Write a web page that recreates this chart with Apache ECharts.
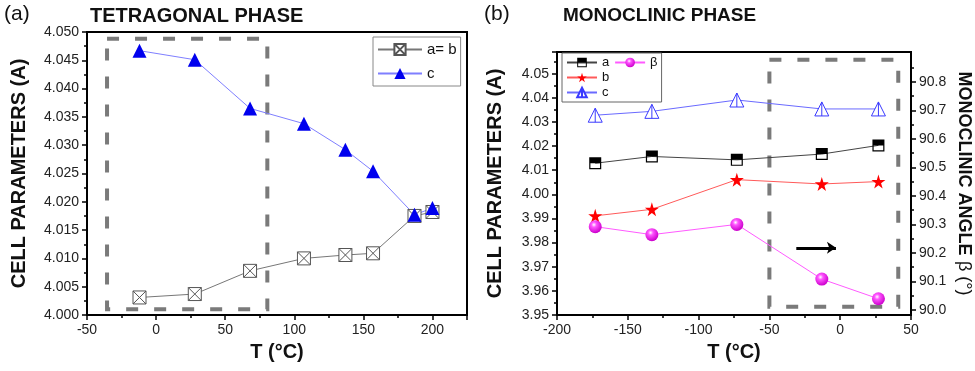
<!DOCTYPE html>
<html>
<head>
<meta charset="utf-8">
<script src="https://cdn.jsdelivr.net/npm/echarts@6/dist/echarts.min.js"></script>
<style>html,body{margin:0;background:#fff}#DataChart{width:975px;height:371px}</style>
</head>
<body>
<div id="DataChart"></div>
<script>
// 数据 (a) 四方相
var tempA = [-12, 28, 68, 107, 137, 157, 187, 200];
var abA = [4.0031, 4.0037, 4.0078, 4.0100, 4.0106, 4.0109, 4.0175, 4.0182];
var cA = [4.0467, 4.0451, 4.0365, 4.0338, 4.0292, 4.0254, 4.0177, 4.0189];

// 数据 (b) 单斜相
var tempB = [-173, -133, -73, -13, 27];
var aB = [4.0129, 4.0157, 4.0143, 4.0167, 4.0203];
var bB = [3.9911, 3.9938, 4.0061, 4.0043, 4.0053];
var cB = [4.0328, 4.0344, 4.0391, 4.0354, 4.0354];
var betaB = [90.292, 90.264, 90.300, 90.108, 90.039];

var betaTicks = [90.0, 90.1, 90.2, 90.3, 90.4, 90.5, 90.6, 90.7, 90.8];
var betaMinorTicks = [90.05, 90.15, 90.25, 90.35, 90.45, 90.55, 90.65, 90.75, 90.85];

function zip(xs, ys) {
    return xs.map(function (x, i) { return [x, ys[i]]; });
}

var font = 'Liberation Sans, Arial, sans-serif';
var black = '#000';

var squareX = 'path://M0,0 L20,0 L20,20 L0,20 Z M0,0 L20,20 M20,0 L0,20';
var halfSquare = 'path://M0,0 L20,0 L20,20 L0,20 Z M2,10 L2,18 L18,18 L18,10 Z';
var star = 'path://M50,0 L61,35 L98,35 L68,57 L79,91 L50,70 L21,91 L32,57 L2,35 L39,35 Z';
var openTri = 'path://M10,0 L20,18 L0,18 Z M10,0 L10,18';

function axisCommon(extra) {
    var base = {
        type: 'value',
        nameLocation: 'middle',
        nameTextStyle: { fontFamily: font, fontWeight: 'bold', fontSize: 20, color: '#111' },
        axisLine: { show: true, onZero: false, lineStyle: { color: black, width: 2 } },
        axisTick: { show: true, inside: false, length: 5, lineStyle: { color: black, width: 1.5 } },
        minorTick: { show: true, splitNumber: 2, length: 3, lineStyle: { color: black, width: 1.5 } },
        axisLabel: { fontFamily: font, fontSize: 14, color: '#222', margin: 8 },
        splitLine: { show: false },
        minorSplitLine: { show: false }
    };
    for (var k in extra) {
        if (typeof extra[k] === 'object' && base[k] && !Array.isArray(extra[k])) {
            base[k] = Object.assign({}, base[k], extra[k]);
        } else {
            base[k] = extra[k];
        }
    }
    return base;
}

var myChart = echarts.init(document.getElementById('DataChart'));

var option = {
    animation: false,
    backgroundColor: '#fff',
    title: [
        { text: '(a)', left: 4, top: 4, padding: 0, textStyle: { fontFamily: font, fontSize: 21, fontWeight: 'normal', color: '#111' } },
        { text: 'TETRAGONAL PHASE', left: 90, top: 6, padding: 0, textStyle: { fontFamily: font, fontSize: 20, fontWeight: 'bold', color: '#111' } },
        { text: '(b)', left: 484, top: 4, padding: 0, textStyle: { fontFamily: font, fontSize: 21, fontWeight: 'normal', color: '#111' } },
        { text: 'MONOCLINIC PHASE', left: 563, top: 6, padding: 0, textStyle: { fontFamily: font, fontSize: 19, fontWeight: 'bold', color: '#111' } }
    ],
    grid: [
        { left: 87, top: 32, right: 508, bottom: 56, show: true, borderColor: black, borderWidth: 2 },
        { left: 557, top: 52, right: 63, bottom: 56, show: true, borderColor: black, borderWidth: 2 }
    ],
    legend: [
        {
            data: ['a= b', 'c'],
            orient: 'vertical',
            left: 373, top: 37,
            itemWidth: 44, itemHeight: 14, itemGap: 9,
            padding: [5, 4, 5, 4],
            borderColor: '#888', borderWidth: 1,
            textStyle: { fontFamily: font, fontSize: 15, color: '#111' }
        },
        {
            data: ['a', 'b', 'c ', 'β'],
            orient: 'vertical',
            left: 562, top: 53,
            height: 48,
            itemWidth: 30, itemHeight: 12, itemGap: 2,
            padding: [3, 4, 3, 4],
            borderColor: '#666', borderWidth: 1,
            textStyle: { fontFamily: font, fontSize: 13, color: '#111' }
        }
    ],
    xAxis: [
        axisCommon({
            gridIndex: 0, min: -50, max: 225, interval: 50,
            name: 'T (°C)', nameGap: 27,
            axisLabel: { showMaxLabel: false }
        }),
        axisCommon({
            gridIndex: 1, min: -200, max: 50, interval: 50,
            name: 'T (°C)', nameGap: 27
        })
    ],
    yAxis: [
        axisCommon({
            gridIndex: 0, min: 4.000, max: 4.050, interval: 0.005,
            name: 'CELL PARAMETERS (A)', nameGap: 58,
            axisLabel: { formatter: function (v) { return v.toFixed(3); } }
        }),
        axisCommon({
            gridIndex: 1, min: 3.95, max: 4.059, interval: 0.01,
            name: 'CELL PARAMETERS (A)', nameGap: 52,
            axisLabel: { showMaxLabel: false, formatter: function (v) { return v.toFixed(2); } }
        }),
        axisCommon({
            gridIndex: 1, position: 'right', min: 89.982, max: 90.905,
            name: '{b|MONOCLINIC ANGLE} {n|β (°)}', nameGap: 43, nameRotate: -90,
            nameTextStyle: {
                rich: {
                    b: { fontFamily: font, fontWeight: 'bold', fontSize: 18, color: '#111' },
                    n: { fontFamily: font, fontWeight: 'normal', fontSize: 18, color: '#111' }
                }
            },
            minorTick: { show: false },
            axisTick: { customValues: betaTicks },
            axisLabel: { customValues: betaTicks, formatter: function (v) { return v.toFixed(1); } }
        }),
        axisCommon({
            gridIndex: 1, position: 'right', min: 89.982, max: 90.905,
            axisLine: { show: false },
            minorTick: { show: false },
            axisLabel: { show: false },
            axisTick: { customValues: betaMinorTicks, length: 3 }
        })
    ],
    series: [
        {
            name: 'a= b', type: 'line', xAxisIndex: 0, yAxisIndex: 0,
            data: zip(tempA, abA),
            symbol: squareX, symbolSize: 13,
            itemStyle: { color: '#fff', borderColor: '#555', borderWidth: 1 },
            lineStyle: { color: '#777', width: 1 },
            markArea: {
                silent: true,
                itemStyle: { color: 'rgba(0,0,0,0)', borderColor: '#7a7a7a', borderWidth: 4, borderType: [12, 16] },
                data: [[{ coord: [-35.5, 4.0488] }, { coord: [80.5, 4.001] }]]
            }
        },
        {
            name: 'c', type: 'line', xAxisIndex: 0, yAxisIndex: 0,
            data: zip(tempA, cA),
            symbol: 'triangle', symbolSize: 14,
            itemStyle: { color: '#0000ee' },
            lineStyle: { color: '#7f7fff', width: 1 }
        },
        {
            name: 'a', type: 'line', xAxisIndex: 1, yAxisIndex: 1,
            data: zip(tempB, aB),
            symbol: halfSquare, symbolSize: 12,
            itemStyle: { color: '#000' },
            lineStyle: { color: '#444', width: 1 },
            markArea: {
                silent: true,
                itemStyle: { color: 'rgba(0,0,0,0)', borderColor: '#7a7a7a', borderWidth: 4, borderType: [12, 16] },
                data: [[{ coord: [-50, 4.0558] }, { coord: [41, 3.9534] }]]
            }
        },
        {
            name: 'b', type: 'line', xAxisIndex: 1, yAxisIndex: 1,
            data: zip(tempB, bB),
            symbol: star, symbolSize: 14,
            itemStyle: { color: '#ff0000' },
            lineStyle: { color: '#ff5a5a', width: 1 }
        },
        {
            name: 'c ', type: 'line', xAxisIndex: 1, yAxisIndex: 1,
            data: zip(tempB, cB),
            symbol: openTri, symbolSize: 14,
            itemStyle: { color: '#fff', borderColor: '#3a3aff', borderWidth: 1 },
            lineStyle: { color: '#6a6aff', width: 1 }
        },
        {
            name: 'β', type: 'line', xAxisIndex: 1, yAxisIndex: 2,
            data: zip(tempB, betaB),
            symbol: 'circle', symbolSize: 13,
            itemStyle: {
                color: new echarts.graphic.RadialGradient(0.4, 0.35, 0.65, [
                    { offset: 0, color: '#ffffff' },
                    { offset: 0.3, color: '#ff55ff' },
                    { offset: 1, color: '#cc00cc' }
                ])
            },
            lineStyle: { color: '#ff5aff', width: 1 },
            markLine: {
                silent: true,
                symbol: ['none', 'arrow'], symbolSize: 9,
                label: { show: false },
                lineStyle: { color: '#000', width: 3, type: 'solid' },
                data: [[{ coord: [-31, 90.218] }, { coord: [-3, 90.218] }]]
            }
        }
    ]
};

myChart.setOption(option);
</script>
</body>
</html>
